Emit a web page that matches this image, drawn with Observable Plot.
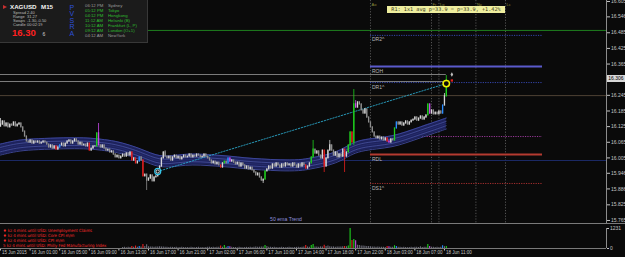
<!DOCTYPE html>
<html><head><meta charset="utf-8">
<script src="https://cdn.jsdelivr.net/npm/d3@7"></script>
<script src="https://cdn.jsdelivr.net/npm/@observablehq/plot@0.6"></script>
<style>
html,body{margin:0;padding:0;background:#0a0a0a;}
#wrap{position:relative;width:625px;height:257px;overflow:hidden;background:#0a0a0a;font-family:"Liberation Sans",Arial,sans-serif;}
.abs{position:absolute;white-space:nowrap;}
#main{position:absolute;left:0;top:0;}
#vol{position:absolute;left:0;top:224px;}
</style></head><body>
<div id="wrap"><div id="main"></div><div id="vol"></div></div>
<script>
// ---------------- data ----------------
const symbol = "XAGUSD", timeframe = "M15";
const infoLabels = ["Spread","Range","Swaps","Candle"];
const infoValues = ["2.40","31.27","-1.30,-0.50","00:02:19"];
const bidMain = "16.30", bidLast = "6";
const pvsra = ["P","V","S","R","A"];
const sessionTimes = ["06:12 PM","05:12 PM","04:12 PM","11:12 AM","10:12 AM","09:12 AM","04:12 AM"];
const sessionCities = ["Sydney","Tokyo","Hongkong","Helsinki (B)","Frankfurt (L, P)","London (O+1)","NewYork"];
const sessionOpen = [false,true,true,true,true,true,false];
const newsLines = ["♦ kz 4 mins until USD: Unemployment Claims","♦ kz 4 mins until USD: Core CPI m/m","♦ kz 4 mins until USD: CPI m/m","5 kz 4 mins until USD: Philly Fed Manufacturing Index"];
const boxText = "R1: 1x1 avg p=33.9 = p=33.9, +1.42%";
const emaLabel = "50 ema Trend";

const firstOpen = 16.125;
const closes = [
16.133,16.145,16.126,16.137,16.122,16.133,16.129,16.141,16.126,16.133,
16.137,16.122,16.106,16.087,16.068,16.064,16.072,16.060,16.068,16.064,
16.068,16.060,16.064,16.068,16.064,16.056,16.045,16.053,16.041,16.049,
16.037,16.045,16.053,16.060,16.049,16.060,16.068,16.072,16.060,16.068,
16.076,16.068,16.056,16.064,16.053,16.056,16.049,16.060,16.033,16.041,
16.049,16.049,16.099,16.053,16.045,16.053,16.041,16.033,16.037,16.026,
16.030,16.018,16.007,16.014,16.003,16.010,16.018,16.010,16.022,16.014,
16.026,15.995,16.003,15.984,15.991,16.007,15.995,15.934,15.941,15.918,
15.926,15.938,15.915,15.930,15.934,15.953,15.972,16.003,16.026,16.010,
16.003,16.010,15.995,16.007,16.014,16.003,16.010,15.999,16.007,16.014,
16.007,16.010,16.018,16.007,16.014,16.010,16.018,16.014,16.007,16.010,
16.018,16.010,16.003,15.995,15.984,15.991,15.980,15.987,15.976,15.968,
15.984,15.991,15.984,16.003,15.991,15.995,15.987,15.980,15.987,15.972,
15.984,15.976,15.964,15.972,15.961,15.968,15.957,15.949,15.938,15.945,
15.930,15.918,15.922,15.953,15.961,15.972,15.964,15.980,15.972,15.984,
15.976,15.968,15.980,15.972,15.984,15.976,15.980,15.972,15.984,15.976,
15.968,15.980,15.972,15.984,15.976,15.964,15.972,15.984,16.007,16.037,
16.022,16.030,16.014,16.003,16.033,15.972,16.003,16.033,16.053,16.033,
16.014,16.026,16.007,16.018,16.010,16.037,16.010,16.026,16.053,16.103,
16.064,16.210,16.198,16.218,16.210,16.187,16.175,16.191,16.160,16.141,
16.122,16.103,16.087,16.080,16.087,16.076,16.083,16.072,16.080,16.068,
16.064,16.076,16.072,16.118,16.141,16.133,16.141,16.129,16.137,16.145,
16.133,16.141,16.148,16.152,16.160,16.148,16.156,16.164,16.152,16.160,
16.168,16.210,16.175,16.187,16.172,16.179,16.172,16.183,16.175,16.206,
16.241,16.302];
const wickHigh = [[0,16.156],[53,16.137],[89,16.033],[169,16.072],[178,16.072],[191,16.267],[192,16.225],[240,16.252],[241,16.321]];
const wickLow = [[79,15.880],[142,15.907],[175,15.949],[186,15.949],[191,16.053]];
const greenBars = [52,121,143,168,169,188,189,191,213,231,241];
const redBars = [30,48,71,73,77,119,165,175,186,190,209];
const blueBars = [32,75,123,214,239];
const magentaBars = [53,124,192,210,232];

const volStart = 66;
const volumes = [
60,80,50,70,60,120,70,150,80,130,90,250,120,230,
110,90,100,80,90,100,110,90,100,80,70,60,80,70,60,70,50,60,70,60,
50,60,50,70,60,50,60,70,50,60,50,60,70,80,60,70,60,80,70,
150,80,180,70,130,110,70,60,
60,50,70,60,50,60,70,60,80,60,70,90,70,80,90,100,
190,120,80,70,60,70,60,50,60,70,60,50,60,70,60,50,60,70,80,60,70,90,
180,90,80,190,240,100,90,80,100,90,200,120,150,110,90,100,80,90,100,90,110,130,110,150,
1231,500,560,480,200,
180,160,150,140,130,120,110,100,90,80,90,70,80,70,60,
120,110,80,70,170,120,80,70,
60,70,60,50,60,70,60,80,70,60,110,60,70,80,
240,130,80,70,60,70,60,80,170,110,120];
const volMax = 1231;

const emaIdx = [0,7,14,27,41,49,54,62,70,76,81,86,92,100,108,116,124,132,141,151,162,168,173,178,184,189,195,203,212,219,227,235,241];
const emaMid = [16.037,16.049,16.056,16.060,16.062,16.060,16.056,16.049,16.033,16.018,16.003,15.991,15.991,15.999,15.999,15.995,15.991,15.984,15.980,15.976,15.976,15.984,15.991,15.999,16.014,16.037,16.053,16.060,16.068,16.083,16.103,16.122,16.137];
const emaHalf = 0.021;

const fullLines = [16.494, 16.244, 15.995];
const fullLineColors = ["#1f7f1f", "#4e4234", "#1c2a66"];
const greyLines = [16.325, 16.298];
const levelNames = ["DR2^","ROH","DR1^","RDL","DS1^"];
const levelPrices = [16.475, 16.356, 16.294, 16.018, 15.907];
const levelSolid = [false, true, false, true, false];
const levelColors = ["#3445aa","#5a5acc","#3445aa","#b43a30","#a83030"];
const levelStart = 200, levelEnd = 293;
const midLevel = 16.087, midLevelStart = 228;
const sessionIdx = [200,233,237,257,273];
const sessionLabels = ["Ao","Fr","Lo","Ny","Lc"];
const trendIdx = [85,241], trendPrice = [15.953,16.290];
const priceTicks = [16.605,16.546,16.485,16.425,16.365,16.245,16.185,16.125,16.065,16.005,15.946,15.886,15.825,15.765];
const currentPrice = 16.306;
const timeIdx = [0,16,32,48,64,80,96,112,128,144,160,176,192,208,224,240];
const timeLabels = ["15 Jun 2015","16 Jun 01:00","16 Jun 05:00","16 Jun 09:00","16 Jun 13:00","16 Jun 17:00","16 Jun 21:00","17 Jun 02:00","17 Jun 06:00","17 Jun 10:00","17 Jun 14:00","17 Jun 18:00","17 Jun 22:00","18 Jun 03:00","18 Jun 07:00","18 Jun 11:00"];

// ---------------- build ----------------
const xMax = 327.6;
const yTop = 16.6088, H = 223, yBot = yTop - H / 260.7;
const lastBar = closes.length - 1;
const hiMap = new Map(wickHigh), loMap = new Map(wickLow);
const colorOf = i => greenBars.includes(i) ? "#1ed21e" : redBars.includes(i) ? "#e82020" : blueBars.includes(i) ? "#2a8cff" : magentaBars.includes(i) ? "#c848e8" : null;
const candles = closes.map((c, i) => {
  const o = i ? closes[i-1] : firstOpen;
  const h = Math.max(o, c, hiMap.has(i) ? hiMap.get(i) : -Infinity);
  const l = Math.min(o, c, loMap.has(i) ? loMap.get(i) : Infinity);
  const col = colorOf(i) || (c >= o ? "#d6d6d6" : "#8e8e8e");
  return {i, o, c, h, l, col};
});
const ema = emaIdx.map((i, k) => ({i, m: emaMid[k], lo: emaMid[k] - emaHalf, hi: emaMid[k] + emaHalf, a: emaMid[k] - emaHalf*0.4, b: emaMid[k] + emaHalf*0.4}));
const levels = levelNames.map((name, k) => ({name, p: levelPrices[k], solid: levelSolid[k], col: levelColors[k]}));
const trend = trendIdx.map((i, k) => ({i, p: trendPrice[k]}));
const full = fullLines.map((p, k) => ({p, col: fullLineColors[k]}));

const main = Plot.plot({
  width: 625, height: H, marginLeft: 0, marginRight: 19, marginTop: 0, marginBottom: 0,
  x: {domain: [0, xMax], axis: null},
  y: {domain: [yBot, yTop], axis: "right", ticks: priceTicks, tickFormat: d => d.toFixed(3), tickSize: 3, tickPadding: 1.5, label: null},
  color: {type: "identity"},
  style: {background: "transparent", color: "#c4c4c4", fontFamily: "Liberation Sans", fontSize: "5px"},
  marks: [
    Plot.ruleX(sessionIdx, {stroke: "#5c5c5c", strokeDasharray: "1.2,1.6", strokeWidth: 0.9}),
    Plot.ruleY(full, {y: "p", stroke: "col", strokeWidth: 1}),
    Plot.ruleY(greyLines, {x1: 0, x2: lastBar, stroke: "#8a8a8a", strokeWidth: 0.9}),
    Plot.ruleY(levels.filter(d => d.solid), {y: "p", x1: levelStart, x2: levelEnd, stroke: "col", strokeWidth: 2}),
    Plot.ruleY(levels.filter(d => !d.solid), {y: "p", x1: levelStart, x2: levelEnd, stroke: "col", strokeWidth: 1, strokeDasharray: "1.2,1.2"}),
    Plot.ruleY([midLevel], {x1: midLevelStart, x2: levelEnd, stroke: "#9a3a9a", strokeWidth: 1, strokeDasharray: "1.2,1.2"}),
    Plot.areaY(ema, {x: "i", y1: "lo", y2: "hi", fill: "#1d225c", curve: "basis"}),
    Plot.lineY(ema, {x: "i", y: "lo", stroke: "#3f4a9e", strokeWidth: 0.9, curve: "basis"}),
    Plot.lineY(ema, {x: "i", y: "hi", stroke: "#3f4a9e", strokeWidth: 0.9, curve: "basis"}),
    Plot.lineY(ema, {x: "i", y: "a", stroke: "#5662b4", strokeWidth: 0.6, curve: "basis"}),
    Plot.lineY(ema, {x: "i", y: "b", stroke: "#5662b4", strokeWidth: 0.6, curve: "basis"}),
    Plot.lineY(ema, {x: "i", y: "m", stroke: "#2b3278", strokeWidth: 0.6, curve: "basis"}),
    Plot.line(trend, {x: "i", y: "p", stroke: "#2aa6c8", strokeWidth: 0.9, strokeDasharray: "1.4,1.6"}),
    Plot.ruleX(candles, {x: "i", y1: "l", y2: "h", stroke: "col", strokeWidth: 0.8}),
    Plot.ruleX(candles, {x: "i", y1: "o", y2: "c", stroke: "col", strokeWidth: 1.3, strokeLinecap: "square"}),
    Plot.dot(trend.slice(0, 1), {x: "i", y: "p", r: 3, stroke: "#38c8ec", strokeWidth: 1.2, fill: "#0a0a0a"}),
    Plot.dot(trend.slice(0, 1), {x: "i", y: "p", r: 1.6, stroke: "#ffffff", strokeWidth: 0.8, fill: "#0a0a0a"}),
    Plot.dot(trend.slice(1), {x: "i", y: "p", r: 3.2, stroke: "#f2f200", strokeWidth: 1.5, fill: "#0a0a0a"}),
    Plot.dot([{i: lastBar + 3, p: greyLines[0]}], {x: "i", y: "p", r: 1.4, symbol: "diamond", fill: "#bdbdbd"}),
    Plot.dot([{i: lastBar + 3, p: closes[lastBar]}], {x: "i", y: "p", r: 1.3, symbol: "square", fill: "#e02020"}),
    Plot.text(levels, {x: levelStart, y: "p", text: "name", textAnchor: "start", dx: 1.5, dy: 4.5, fill: "#b8b8b8", fontSize: 5}),
    Plot.text(sessionIdx, {x: d => d, text: (d, k) => sessionLabels[k], frameAnchor: "top", dy: 2.2, dx: 1, textAnchor: "start", fill: "#8c8c3c", fontSize: 4}),
    Plot.ruleX([xMax], {stroke: "#8c8c8c"})
  ]
});
document.getElementById("main").appendChild(main);

const vols = volumes.map((v, k) => ({i: volStart + k, v, col: colorOf(volStart + k) || "#6c6c7a"}));
const vol = Plot.plot({
  width: 625, height: 33, marginLeft: 0, marginRight: 19, marginTop: 4, marginBottom: 9,
  x: {domain: [0, xMax], axis: "bottom", ticks: timeIdx, tickFormat: () => "", tickSize: 2.5, label: null},
  y: {domain: [0, volMax], axis: "right", ticks: [0, volMax], tickFormat: d => String(d), tickSize: 2, tickPadding: 1.5, label: null},
  color: {type: "identity"},
  style: {background: "transparent", color: "#c4c4c4", fontFamily: "Liberation Sans", fontSize: "5px"},
  marks: [
    Plot.ruleX(vols, {x: "i", y1: 0, y2: "v", stroke: "col", strokeWidth: 1.1}),
    Plot.ruleY([0], {stroke: "#7a7a7a"}),
    Plot.ruleX([xMax], {stroke: "#8c8c8c"}),
    Plot.text(timeIdx, {x: d => d, text: (d, k) => timeLabels[k], frameAnchor: "bottom", textAnchor: "start", dx: 1.5, dy: 5, fill: "#c4c4c4", fontSize: 4.5})
  ]
});
document.getElementById("vol").appendChild(vol);

// ---------------- overlays (text) ----------------
const wrap = document.getElementById("wrap");
function add(html, css) { const d = document.createElement("div"); d.className = "abs"; d.textContent = html; Object.assign(d.style, css); wrap.appendChild(d); return d; }
add("", {left: "0px", top: "223px", width: "625px", height: "1px", background: "#7a7a7a"});
add("", {left: "0px", top: "0px", width: "147px", height: "42px", background: "#1b1b1b", borderRight: "1px solid #383838", borderBottom: "1px solid #383838"});
add("", {left: "3px", top: "4.5px", width: "0px", height: "0px", borderLeft: "4px solid #c83030", borderTop: "2px solid transparent", borderBottom: "2px solid transparent"});
add(symbol, {left: "10px", top: "3.5px", fontSize: "6.2px", fontWeight: "bold", color: "#f4f4f4", lineHeight: "6.5px"});
add(timeframe, {left: "41px", top: "3.5px", fontSize: "6.2px", fontWeight: "bold", color: "#f4f4f4", lineHeight: "6.5px"});
infoLabels.forEach((t, k) => {
  add(t, {left: "13px", top: (10.6 + k*4.2) + "px", fontSize: "4px", lineHeight: "4px", color: "#bdbdbd"});
  add(infoValues[k], {left: "27px", top: (10.6 + k*4.2) + "px", fontSize: "4px", lineHeight: "4px", color: "#bdbdbd"});
});
add(bidMain, {left: "12px", top: "28px", fontSize: "9.5px", fontWeight: "bold", color: "#ff2020", lineHeight: "10px"});
add(bidLast, {left: "42.5px", top: "31.5px", fontSize: "5px", color: "#d0d0d0", lineHeight: "5px"});
pvsra.forEach((t, k) => add(t, {left: "69.5px", top: (3.5 + k*6.6) + "px", fontSize: "7px", lineHeight: "7px", color: "#2d50dc"}));
sessionTimes.forEach((t, k) => {
  const col = sessionOpen[k] ? "#2fbf2f" : "#9a9a9a";
  add(t, {left: "85px", top: (3.5 + k*5) + "px", fontSize: "4.3px", lineHeight: "4.5px", color: col});
  add(sessionCities[k], {left: "108px", top: (3.5 + k*5) + "px", fontSize: "4.3px", lineHeight: "4.5px", color: col});
});
add(boxText, {left: "387px", top: "6px", width: "118px", height: "6.5px", background: "#eeee9e", color: "#3a3a20", fontFamily: "'DejaVu Sans Mono',monospace", fontSize: "5.2px", lineHeight: "6.5px", textAlign: "center"});
add(emaLabel, {left: "270px", top: "216.5px", fontSize: "5.2px", lineHeight: "5px", color: "#8e8edc"});
newsLines.forEach((t, k) => add(t, {left: "3px", top: (227.6 + k*5) + "px", fontSize: "4.3px", lineHeight: "5px", color: "#ff2c2c", fontFamily: "'DejaVu Sans Condensed','Liberation Sans',sans-serif"}));
const cy = main.scale("y").apply(currentPrice);
add(currentPrice.toFixed(3), {left: "607px", top: (cy - 3.5) + "px", width: "18px", height: "7px", background: "#d8d8d8", color: "#000", fontSize: "5px", lineHeight: "7px", textAlign: "center"});
</script>
</body></html>
